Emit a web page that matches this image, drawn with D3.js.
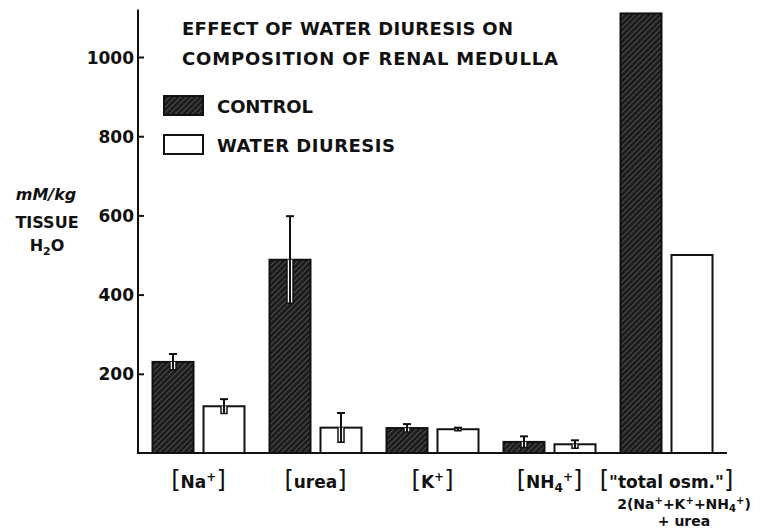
<!DOCTYPE html>
<html>
<head>
<meta charset="utf-8">
<script src="https://cdn.jsdelivr.net/npm/d3@7"></script>
<style>
  body { margin: 0; background: #fff; }
  svg text { font-family: "DejaVu Sans", sans-serif; font-weight: bold; fill: #111; }
</style>
</head>
<body>
<svg width="765" height="529"></svg>
<script>
// values (mM/kg tissue H2O)
var groups = ["Na", "urea", "K", "NH4", "total"];
var series = ["control", "water"];
var controlMean = [230, 488, 63, 28, 1110];
var controlErr = [20, 110, 10, 14, 0];
var waterMean = [118, 64, 60, 22, 500];
var waterErr = [18, 37, 4, 10, 0];
var yTicks = [200, 400, 600, 800, 1000];

var svg = d3.select("svg");

// hatch for the control bars
var defs = svg.append("defs");
var pat = defs.append("pattern")
  .attr("id", "hatch")
  .attr("patternUnits", "userSpaceOnUse")
  .attr("width", 4).attr("height", 4)
  .attr("patternTransform", "rotate(45)");
pat.append("rect").attr("width", 4).attr("height", 4).attr("fill", "#1c1c1c");
pat.append("line").attr("x1", 0).attr("y1", 0).attr("x2", 0).attr("y2", 4)
  .attr("stroke", "#7a7a7a").attr("stroke-width", 1.1);

var x = d3.scaleBand().domain(groups).range([140, 725]);
var xs = d3.scaleBand().domain(series).range([0, x.bandwidth()])
  .paddingInner(0.196).paddingOuter(0.245);
var y = d3.scaleLinear().domain([0, 1000]).range([453, 57]);

// axis
var yAxis = d3.axisLeft(y).tickValues(yTicks).tickFormat(d3.format("d"))
  .tickSizeInner(-6).tickSizeOuter(0).tickPadding(4);
var ag = svg.append("g").attr("transform", "translate(138,0)").call(yAxis);
ag.select(".domain").remove();
ag.selectAll(".tick line").attr("stroke", "#111").attr("stroke-width", 2);
ag.selectAll(".tick text").style("font-size", "17px").attr("dy", "0.36em");

svg.append("line").attr("x1", 138).attr("x2", 138)
  .attr("y1", y(1120)).attr("y2", y(0) + 1)
  .attr("stroke", "#111").attr("stroke-width", 2);
svg.append("line").attr("x1", 137).attr("x2", 727)
  .attr("y1", y(0)).attr("y2", y(0))
  .attr("stroke", "#111").attr("stroke-width", 2);

// bars
var rows = [];
groups.forEach(function(g, i) {
  rows.push({g: g, s: "control", v: controlMean[i], e: controlErr[i]});
  rows.push({g: g, s: "water", v: waterMean[i], e: waterErr[i]});
});

var bar = svg.append("g").selectAll("g").data(rows).enter().append("g")
  .attr("transform", function(d) { return "translate(" + (x(d.g) + xs(d.s)) + ",0)"; });

bar.append("rect")
  .attr("x", 0)
  .attr("y", function(d) { return y(d.v); })
  .attr("width", xs.bandwidth())
  .attr("height", function(d) { return y(0) - y(d.v); })
  .attr("fill", function(d) { return d.s == "control" ? "url(#hatch)" : "#fff"; })
  .attr("stroke", "#111")
  .attr("stroke-width", 2);

var eb = bar.filter(function(d) { return d.e > 0; });
var cx = xs.bandwidth() / 2;
// notch cut into the bar
eb.append("path")
  .attr("d", function(d) {
    return "M" + (cx - 3) + "," + y(d.v) + "V" + y(d.v - d.e) + "H" + (cx + 3) + "V" + y(d.v);
  })
  .attr("fill", "#fff").attr("stroke", "#111").attr("stroke-width", 1.5);
eb.append("line")
  .attr("x1", cx).attr("x2", cx)
  .attr("y1", function(d) { return y(d.v + d.e); })
  .attr("y2", function(d) { return y(d.v - d.e); })
  .attr("stroke", "#111").attr("stroke-width", 2);
eb.append("line")
  .attr("x1", cx - 4).attr("x2", cx + 4)
  .attr("y1", function(d) { return y(d.v + d.e); })
  .attr("y2", function(d) { return y(d.v + d.e); })
  .attr("stroke", "#111").attr("stroke-width", 2);

// title
var title = svg.append("g").style("font-size", "18px");
title.append("text").attr("x", 182).attr("y", 35)
  .attr("textLength", 331).attr("lengthAdjust", "spacing").text("EFFECT OF WATER DIURESIS ON");
title.append("text").attr("x", 182).attr("y", 65)
  .attr("textLength", 376).attr("lengthAdjust", "spacing").text("COMPOSITION OF RENAL MEDULLA");

// legend
svg.append("rect").attr("x", 164).attr("y", 96).attr("width", 39).attr("height", 19)
  .attr("fill", "url(#hatch)").attr("stroke", "#111").attr("stroke-width", 2);
svg.append("rect").attr("x", 164).attr("y", 135).attr("width", 39).attr("height", 19)
  .attr("fill", "#fff").attr("stroke", "#111").attr("stroke-width", 2);
svg.append("text").attr("x", 217).attr("y", 113).style("font-size", "18px")
  .attr("textLength", 96).attr("lengthAdjust", "spacing").text("CONTROL");
svg.append("text").attr("x", 217).attr("y", 152).style("font-size", "18px")
  .attr("textLength", 178).attr("lengthAdjust", "spacing").text("WATER DIURESIS");

// y label
var yl = svg.append("g").style("font-size", "16px").attr("text-anchor", "middle");
yl.append("text").attr("x", 46).attr("y", 200).style("font-style", "italic").text("mM/kg");
yl.append("text").attr("x", 47).attr("y", 228).text("TISSUE");
var h2o = yl.append("text").attr("x", 47).attr("y", 251);
h2o.append("tspan").text("H");
h2o.append("tspan").attr("dy", 4).style("font-size", "11px").text("2");
h2o.append("tspan").attr("dy", -4).text("O");

// category labels
var lab = svg.append("g").style("font-size", "17px").attr("text-anchor", "middle");
function catLabel(g, parts) {
  var t = lab.append("text").attr("x", x(g) + x.bandwidth() / 2).attr("y", 488);
  parts.forEach(function(p) {
    var ts = t.append("tspan").text(p[0]);
    if (p[1] == "br") ts.style("font-size", "24px").style("font-weight", "normal");
    if (p[1] == "sup") ts.attr("dy", -7).style("font-size", "12px");
    if (p[1] == "sub") ts.attr("dy", 4).style("font-size", "12px");
    if (p[2]) ts.attr("dy", p[2]);
  });
  return t;
}
catLabel("Na", [["[", "br"], ["Na"], ["+", "sup"], ["]", "br", 7]]);
catLabel("urea", [["[", "br"], ["urea"], ["]", "br"]]);
catLabel("K", [["[", "br"], ["K"], ["+", "sup"], ["]", "br", 7]]);
catLabel("NH4", [["[", "br"], ["NH"], ["4", "sub"], ["+", "sup", -11], ["]", "br", 7]]);
catLabel("total", [["[", "br"], ["\"total osm.\""], ["]", "br"]]);

var t2 = lab.append("text").attr("x", 684).attr("y", 509).style("font-size", "14px");
t2.append("tspan").text("2(Na");
t2.append("tspan").attr("dy", -5).style("font-size", "10px").text("+");
t2.append("tspan").attr("dy", 5).text("+K");
t2.append("tspan").attr("dy", -5).style("font-size", "10px").text("+");
t2.append("tspan").attr("dy", 5).text("+NH");
t2.append("tspan").attr("dy", 3).style("font-size", "10px").text("4");
t2.append("tspan").attr("dy", -8).style("font-size", "10px").text("+");
t2.append("tspan").attr("dy", 5).text(")");
lab.append("text").attr("x", 684).attr("y", 526)
  .style("font-size", "14px").text("+ urea");
</script>
</body>
</html>
